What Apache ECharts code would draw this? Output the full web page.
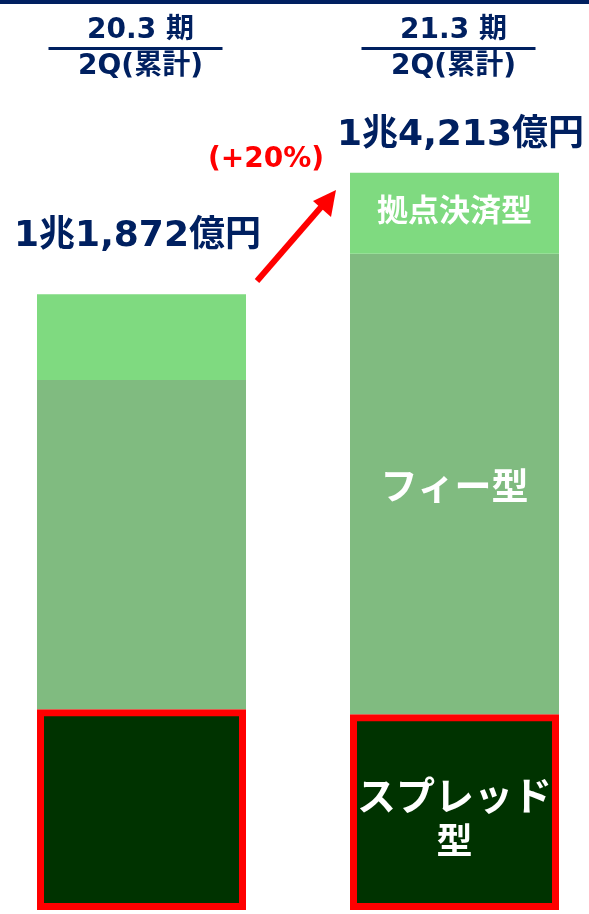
<!DOCTYPE html>
<html>
<head>
<meta charset="utf-8">
<script src="https://cdn.jsdelivr.net/npm/echarts@6/dist/echarts.min.js"></script>
<style>
  html, body { margin: 0; padding: 0; background: #ffffff; overflow: hidden; }
  body { position: relative; width: 589px; height: 914px; }
  /* the plot is a little wider than the page so the two bars sit where they should */
  #chart { position: absolute; left: -15px; top: 0; width: 626px; height: 914px; }
</style>
</head>
<body>
<div id="chart"></div>
<script>
// 期間（見出しの上段・下段）
const periods = ['20.3期 2Q(累計)', '21.3期 2Q(累計)'];
const periodTop = ['20.3 期', '21.3 期'];
const periodBottom = ['2Q(累計)', '2Q(累計)'];

// 収益の内訳（億円）
const spreadType = [3870, 3775];      // スプレッド型
const feeType = [6345, 8878];         // フィー型
const settlementType = [1657, 1560];  // 拠点決済型

// 合計と前年比
const totals = periods.map((_, i) => spreadType[i] + feeType[i] + settlementType[i]);
const growthLabel = '(+20%)';

const NAVY = '#002060';
const FONT = '"DejaVu Sans", "Noto Sans CJK JP", sans-serif';
const SHIFT = 15; // page x = canvas x - SHIFT

function formatOku(v) {
  const cho = Math.floor(v / 10000);
  const rest = v % 10000;
  return (cho > 0 ? cho + '兆' : '') + rest.toLocaleString('en-US') + '億円';
}

const chart = echarts.init(document.getElementById('chart'), null, { renderer: 'canvas' });

const option = {
  animation: false,
  backgroundColor: '#ffffff',
  grid: { left: 0, right: 0, top: 80, bottom: 4 },
  xAxis: { type: 'category', data: periods, show: false },
  yAxis: { type: 'value', min: 0, max: 16000, show: false },
  series: [
    {
      name: 'スプレッド型',
      type: 'bar',
      stack: 'total',
      barWidth: 209,
      data: spreadType.map((v, i) => ({
        value: v,
        label: i === 1 ? {
          show: true,
          position: 'inside',
          offset: [0, 10],
          formatter: '{a|スプレッド}\n{b|型}',
          rich: {
            a: { color: '#ffffff', fontSize: 39, fontFamily: FONT, fontWeight: 'bold', lineHeight: 45 },
            b: { color: '#ffffff', fontSize: 36, fontFamily: FONT, fontWeight: 'bold', lineHeight: 45 }
          }
        } : { show: false }
      })),
      itemStyle: { color: '#003300', borderColor: '#ff0000', borderWidth: 7 }
    },
    {
      name: 'フィー型',
      type: 'bar',
      stack: 'total',
      data: feeType.map((v, i) => ({
        value: v,
        label: i === 1 ? {
          show: true,
          position: 'inside',
          offset: [0, 6],
          formatter: 'フィー型',
          color: '#ffffff',
          fontSize: 37,
          fontWeight: 'bold',
          fontFamily: FONT
        } : { show: false }
      })),
      itemStyle: { color: '#80bb80' }
    },
    {
      name: '拠点決済型',
      type: 'bar',
      stack: 'total',
      data: settlementType.map((v, i) => ({
        value: v,
        label: i === 1 ? {
          show: true,
          position: 'inside',
          formatter: '拠点決済型',
          color: '#ffffff',
          fontSize: 31,
          fontWeight: 'bold',
          fontFamily: FONT
        } : { show: false }
      })),
      itemStyle: { color: '#7fda80' }
    },
    {
      name: '合計',
      type: 'bar',
      stack: 'total',
      data: totals.map((t, i) => ({
        value: 0,
        label: {
          show: true,
          position: 'top',
          distance: i === 0 ? 39 : 19,
          offset: i === 0 ? [-4, 0] : [6, 0],
          formatter: formatOku(t),
          color: NAVY,
          fontSize: 36,
          fontWeight: 'bold',
          fontFamily: FONT
        }
      })),
      itemStyle: { color: 'rgba(0,0,0,0)' }
    }
  ]
};

chart.setOption(option);

// 期間見出し・増加率・矢印
const cx = periods.map((p) => chart.convertToPixel({ gridIndex: 0 }, [p, 0])[0]);
const graphics = [
  { type: 'rect', shape: { x: 0, y: 0, width: 626, height: 4 }, style: { fill: NAVY } }
];
cx.forEach((x, i) => {
  graphics.push(
    { type: 'text', x: x - 1, y: 31, style: { text: periodTop[i], fill: NAVY, font: 'bold 28px ' + FONT, textAlign: 'center', textVerticalAlign: 'middle' } },
    { type: 'rect', shape: { x: x - 93, y: 47, width: 174, height: 3 }, style: { fill: NAVY } },
    { type: 'text', x: x - 1, y: 67, style: { text: periodBottom[i], fill: NAVY, font: 'bold 28px ' + FONT, textAlign: 'center', textVerticalAlign: 'middle' } }
  );
});
graphics.push(
  { type: 'text', x: 266 + SHIFT, y: 160, style: { text: growthLabel, fill: '#ff0000', font: 'bold 28px ' + FONT, textAlign: 'center', textVerticalAlign: 'middle' } },
  { type: 'line', shape: { x1: 257 + SHIFT, y1: 281, x2: 322 + SHIFT, y2: 206 }, style: { stroke: '#ff0000', lineWidth: 6 } },
  { type: 'polygon', shape: { points: [[336 + SHIFT, 190], [331 + SHIFT, 217], [313 + SHIFT, 201]] }, style: { fill: '#ff0000' } }
);
chart.setOption({ graphic: graphics });
</script>
</body>
</html>
